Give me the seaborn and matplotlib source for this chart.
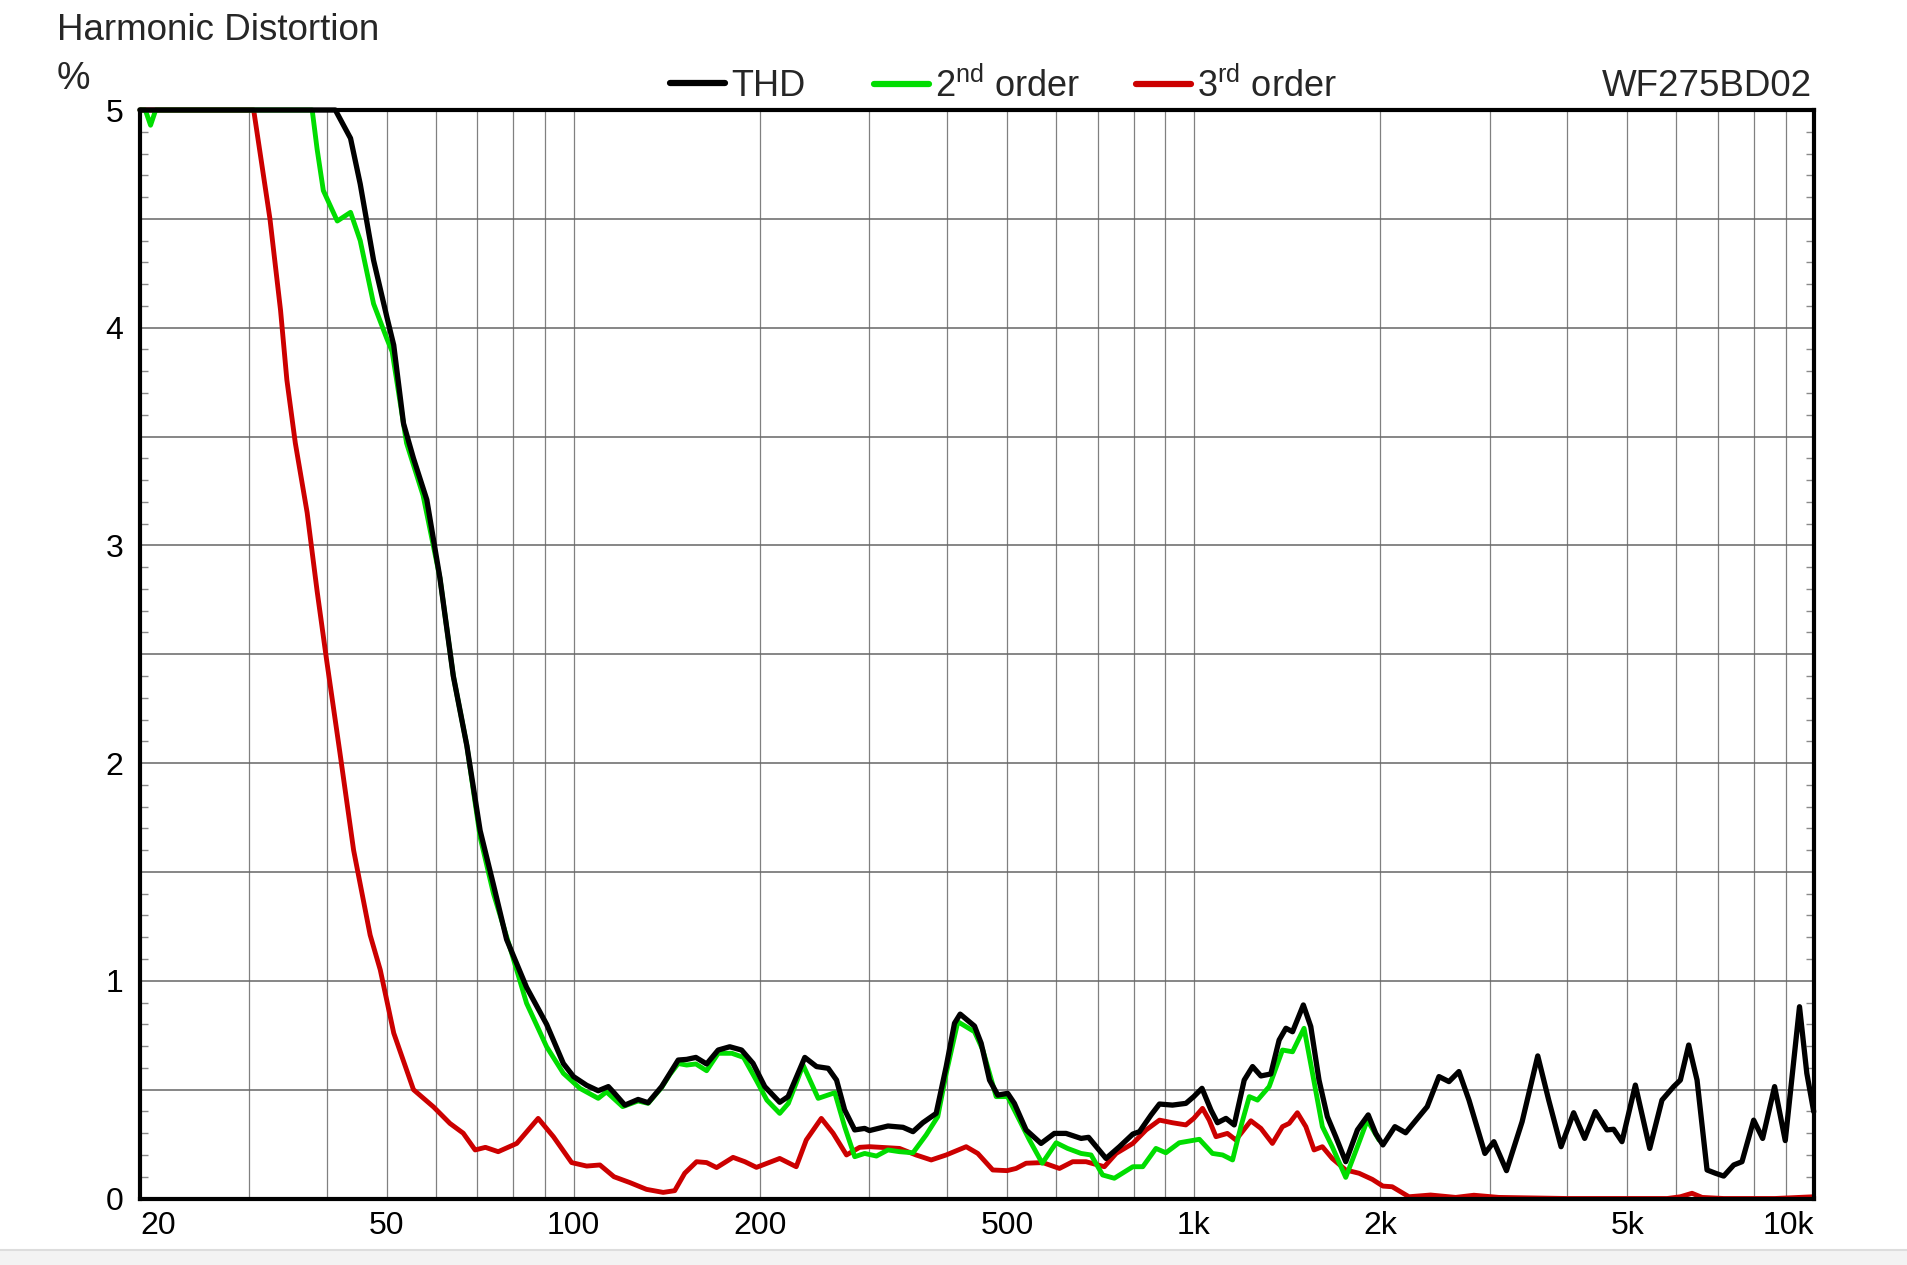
import numpy as np
import pandas as pd
import matplotlib.pyplot as plt
import seaborn as sns
from matplotlib.lines import Line2D
from matplotlib.patches import Rectangle
from matplotlib.ticker import FixedLocator, MultipleLocator, LogLocator, NullFormatter, FuncFormatter

# THD curve (black)
thd_freq = [20, 41.3, 43.7, 45.3, 47.6, 50.0, 51.3, 53.2, 55.2, 58.0, 60.9, 64.0, 67.3, 70.7, 74.3,
            78.0, 84.0, 90.5, 96.3, 100, 105, 109.6, 113.8, 116.2, 121.0, 127.1, 131.9, 138.7, 143.0,
            147.5, 152.2, 157.5, 163.9, 171.1, 178.6, 186.6, 194.7, 203.4, 215.0, 221.8, 236.0, 246.5,
            257.4, 265.5, 273.6, 284.0, 294.7, 300, 321.3, 339.8, 352.6, 365.7, 384.3, 398.9, 411.4,
            420.1, 443.1, 454.2, 468.5, 483.1, 501.2, 513.8, 536.6, 567.2, 596.0, 622.4, 658.2, 676.7,
            722, 758.9, 797.6, 817.5, 853.6, 880.4, 924.0, 971.2, 1000, 1031, 1066, 1092, 1127, 1162,
            1206, 1244, 1283, 1331, 1373, 1408, 1443, 1502, 1544, 1592, 1642, 1694, 1758, 1836, 1911,
            1965, 2018, 2110, 2196, 2307, 2379, 2485, 2579, 2676, 2778, 2947, 3047, 3193, 3384, 3586,
            3735, 3910, 4097, 4268, 4441, 4636, 4753, 4902, 5152, 5434, 5687, 5939, 6089, 6280, 6478,
            6723, 6936, 7152, 7423, 7654, 7993, 8264, 8639, 8988, 9476, 9737, 9990]
thd_pct = [5.0, 5.0, 4.87, 4.66, 4.31, 4.05, 3.92, 3.56, 3.40, 3.21, 2.85, 2.40, 2.08, 1.69, 1.44,
           1.19, 0.97, 0.80, 0.62, 0.56, 0.52, 0.495, 0.514, 0.486, 0.429, 0.455, 0.44, 0.514, 0.575,
           0.636, 0.639, 0.648, 0.618, 0.682, 0.697, 0.682, 0.621, 0.514, 0.442, 0.468, 0.648, 0.606,
           0.598, 0.544, 0.407, 0.315, 0.322, 0.312, 0.333, 0.327, 0.307, 0.348, 0.391, 0.606, 0.805,
           0.847, 0.792, 0.713, 0.544, 0.475, 0.483, 0.437, 0.315, 0.253, 0.299, 0.299, 0.276, 0.281,
           0.184, 0.238, 0.296, 0.307, 0.384, 0.434, 0.429, 0.437, 0.468, 0.506, 0.406, 0.348, 0.368, 0.338,
           0.544, 0.606, 0.563, 0.572, 0.728, 0.782, 0.766, 0.889, 0.79, 0.544, 0.376, 0.284, 0.169, 0.315, 0.384,
           0.299, 0.246, 0.33, 0.302, 0.376, 0.422, 0.56, 0.537, 0.583, 0.452, 0.207, 0.261, 0.128, 0.353, 0.655,
           0.452, 0.238, 0.394, 0.276, 0.399, 0.315, 0.318, 0.261, 0.521, 0.23, 0.452, 0.514, 0.544, 0.705, 0.544,
           0.131, 0.116, 0.103, 0.154, 0.169, 0.36, 0.276, 0.514, 0.266, 0.881, 0.575, 0.399]

# 2nd order (green)
h2_freq = [20, 20.4, 20.8, 21.2, 37.9, 38.6, 39.5, 41.6, 43.7, 45.3, 47.6, 50.0, 51.0, 53.8, 57.2,
           60.9, 64.0, 67.3, 70.7, 74.3, 79.5, 84.0, 90.5, 96.3, 102.4, 109.6, 113.0, 120.0, 127.1,
           131.9, 138.7, 143.0, 147.5, 152.2, 157.5, 163.9, 171.1, 180, 188, 197, 205, 215.0, 222,
           234.5, 248, 263.8, 273.6, 284.0, 294.7, 307.9, 321.3, 335.4, 352.6, 370.3, 386.6, 398.9,
           416.5, 443.1, 457, 480.2, 501, 513.8, 543.3, 569.8, 600, 626, 658, 683, 713, 744.6, 797.6,
           827.6, 869, 901.6, 947.6, 1021, 1072, 1113, 1155, 1191, 1229, 1267, 1323, 1390, 1443, 1506,
           1554, 1612, 1672, 1758, 1836, 1905, 1989]
h2_pct = [5.0, 5.0, 4.93, 5.0, 5.0, 4.82, 4.63, 4.49, 4.53, 4.40, 4.11, 3.95, 3.89, 3.47, 3.23,
          2.85, 2.40, 2.08, 1.66, 1.40, 1.126, 0.897, 0.697, 0.575, 0.506, 0.46, 0.49, 0.422, 0.448,
          0.437, 0.51, 0.57, 0.62, 0.613, 0.618, 0.587, 0.667, 0.667, 0.648, 0.544, 0.452, 0.391, 0.437,
          0.613, 0.46, 0.486, 0.33, 0.192, 0.207, 0.195, 0.223, 0.215, 0.21, 0.292, 0.376, 0.575,
          0.812, 0.766, 0.682, 0.468, 0.468, 0.406, 0.269, 0.162, 0.256, 0.23, 0.207, 0.2, 0.108, 0.093, 0.146,
          0.146, 0.23, 0.21, 0.256, 0.272, 0.207, 0.2, 0.177, 0.33, 0.468, 0.452, 0.514, 0.682, 0.674, 0.782,
          0.575, 0.33, 0.238, 0.097, 0.238, 0.36, 0.269]

# 3rd order (red)
h3_freq = [20, 30.5, 32.4, 33.7, 34.5, 35.6, 37.2, 38.6, 40.0, 42.0, 44.2, 47.0, 48.8, 51.3, 55.2,
           59.5, 63.2, 66.4, 69.4, 72.1, 75.6, 81.0, 87.7, 92.8, 99.3, 105, 110.3, 116.2, 123.3, 131.1,
           139.5, 145.6, 151.1, 157.9, 163.9, 170.1, 180.8, 188.9, 197.2, 215, 228.6, 237.3, 250.9,
           262.1, 275.5, 289.3, 300, 335.4, 356.6, 377.3, 398.9, 429.6, 448.5, 474.2, 500, 517, 536.6,
           570.9, 607.3, 637.9, 670.3, 717.5, 749.6, 797.6, 837.9, 880.4, 924, 971, 1000, 1033, 1059,
           1086, 1133, 1169, 1236, 1283, 1339, 1390, 1425, 1469, 1516, 1563, 1612, 1672, 1758, 1847,
           1940, 2018, 2089, 2223, 2409, 2644, 2829, 3103, 4000, 5000, 5800, 6089, 6358, 6600, 7150,
           8650, 9990]
h3_pct = [5.0, 5.0, 4.5, 4.08, 3.76, 3.47, 3.15, 2.79, 2.47, 2.05, 1.60, 1.21, 1.05, 0.76, 0.50,
          0.42, 0.345, 0.30, 0.223, 0.235, 0.215, 0.253, 0.368, 0.284, 0.165, 0.149, 0.154, 0.10, 0.073, 0.042,
          0.028, 0.036, 0.116, 0.169, 0.165, 0.142, 0.189, 0.169, 0.143, 0.184, 0.146, 0.269, 0.368,
          0.30, 0.20, 0.235, 0.238, 0.23, 0.20, 0.177, 0.20, 0.238, 0.207, 0.131, 0.128, 0.138, 0.162,
          0.165, 0.138, 0.169, 0.169, 0.146, 0.207, 0.253, 0.315, 0.36, 0.348, 0.338, 0.368, 0.414, 0.36,
          0.284, 0.299, 0.269, 0.357, 0.322, 0.253, 0.33, 0.345, 0.394, 0.33, 0.223, 0.238, 0.184, 0.131, 0.116,
          0.088, 0.057, 0.054, 0.008, 0.016, 0.005, 0.015, 0.005, 0.0, 0.0, 0.0, 0.008, 0.024, 0.005, 0.0,
          0.0, 0.008]

x_ticks = [20, 50, 100, 200, 500, 1000, 2000, 5000, 10000]
x_labels = ["20", "50", "100", "200", "500", "1k", "2k", "5k", "10k"]

series_labels = ["THD", "2$^{\\mathrm{nd}}$ order", "3$^{\\mathrm{rd}}$ order"]

C_THD = "#000000"
C_H2 = "#00dd00"
C_H3 = "#cc0000"

sns.set_theme(style="white")
plt.rcParams["font.family"] = ["Liberation Sans", "DejaVu Sans"]
plt.rcParams["mathtext.fontset"] = "custom"
plt.rcParams["mathtext.rm"] = "Liberation Sans"
plt.rcParams["mathtext.it"] = "Liberation Sans:italic"

W, H = 1908, 1265
fig = plt.figure(figsize=(W / 100, H / 100), dpi=100)
ax = fig.add_axes([140 / W, 1 - 1198.5 / H, (1814 - 140) / W, (1198.5 - 110) / H])

df_thd = pd.DataFrame({"freq": thd_freq, "pct": thd_pct})
df_h2 = pd.DataFrame({"freq": h2_freq, "pct": h2_pct})
df_h3 = pd.DataFrame({"freq": h3_freq, "pct": h3_pct})

sns.lineplot(data=df_h3, x="freq", y="pct", color=C_H3, lw=3.5, ax=ax, estimator=None, clip_on=False)
sns.lineplot(data=df_h2, x="freq", y="pct", color=C_H2, lw=3.5, ax=ax, estimator=None, clip_on=False)
sns.lineplot(data=df_thd, x="freq", y="pct", color=C_THD, lw=3.8, ax=ax, estimator=None, clip_on=False)

ax.set_xscale("log")
ax.set_xlim(20, 10000)
ax.set_ylim(0, 5)
ax.set_xlabel("")
ax.set_ylabel("")

ax.xaxis.set_major_locator(FixedLocator(x_ticks))
ax.set_xticklabels(x_labels)
ax.xaxis.set_minor_locator(LogLocator(base=10, subs=np.arange(1, 10)))
ax.xaxis.set_minor_formatter(NullFormatter())
for lbl in ax.get_xticklabels():
    if lbl.get_text() == "20":
        lbl.set_ha("left")
    elif lbl.get_text() == "10k":
        lbl.set_ha("right")

ax.yaxis.set_major_locator(MultipleLocator(0.5))
ax.yaxis.set_major_formatter(FuncFormatter(lambda v, p: f"{int(round(v))}" if abs(v - round(v)) < 1e-6 else ""))
ax.yaxis.set_minor_locator(MultipleLocator(0.1))

ax.grid(True, which="both", axis="x", color="#808080", lw=0.9)
ax.grid(True, which="major", axis="y", color="#666666", lw=1.1)

ax.tick_params(axis="x", which="major", length=0, labelsize=23, pad=9, colors="black")
ax.tick_params(axis="x", which="minor", length=0)
ax.tick_params(axis="y", which="major", length=0, labelsize=23, pad=12, colors="black")
ax.tick_params(axis="y", which="minor", direction="in", length=6, width=1, color="#8a8a8a",
               left=True, right=True)

for s in ax.spines.values():
    s.set_visible(True)
    s.set_color("black")
    s.set_linewidth(3)
    s.set_zorder(3)

# titles
fig.text(57 / W, 1 - 31 / H, "Harmonic Distortion", fontsize=26.5, va="center", ha="left")
fig.text(57 / W, 1 - 79 / H, "%", fontsize=27, va="center", ha="left")
fig.text(1812 / W, 1 - 87 / H, "WF275BD02", fontsize=26.5, va="center", ha="right")

# legend entries, one small legend per entry so each sits where the reference has it
legend_x = [670, 874, 1136]
for color, label, x0 in zip([C_THD, C_H2, C_H3], series_labels, legend_x):
    leg = fig.legend([Line2D([], [], color=color, lw=4.5)], [label], loc="center left",
                     bbox_to_anchor=(x0 / W, 1 - 86 / H), frameon=False, fontsize=26,
                     handlelength=1.52, handletextpad=0.17, borderpad=0, borderaxespad=0)

# light footer band
fig.add_artist(Rectangle((0, 0), 1, 15 / H, transform=fig.transFigure, facecolor="#f3f3f3",
                         edgecolor="none"))
fig.add_artist(Line2D([0, 1], [15 / H, 15 / H], transform=fig.transFigure, color="#dddddd", lw=1.5))

fig.savefig("out.png", dpi=100)
plt.close(fig)
